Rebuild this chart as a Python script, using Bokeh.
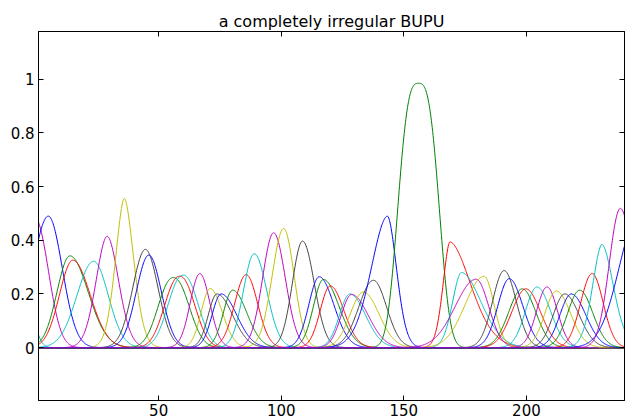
import numpy as np
from bokeh.plotting import figure
from bokeh.models import Range1d, LinearAxis, FixedTicker
from bokeh.embed import file_html
from bokeh.resources import INLINE

# ---- data (one bump per curve) ----
colors = ["c", "m", "b", "g", "r", "c", "m", "y", "k", "b",
          "g", "r", "c", "m", "y", "k", "b", "g", "r", "c",
          "m", "y", "k", "b", "g", "r", "c", "m", "y", "k",
          "b", "g", "r", "c", "m", "y", "k", "b", "g", "r",
          "c", "m", "y", "k", "b", "g", "r", "c", "b", "m"]
centers = [-4, -1, 5, 13.8, 15, 23.5, 29, 36, 44.6, 46,
           56, 58.6, 60, 66.8, 71, 73.8, 75.5, 80.2, 85.7, 89,
           96.9, 101, 108.7, 115.5, 117.2, 120, 128, 128.7, 133.5, 137.6,
           143.3, 156, 168.8, 173.5, 179.5, 182.7, 190.9, 193, 198.3, 199.8,
           204.3, 208.4, 212.2, 215.6, 218.3, 221.7, 226.8, 230.8, 246, 238.3]
heights = [0.2, 0.49, 0.49, 0.342, 0.326, 0.322, 0.415, 0.556, 0.366, 0.345,
           0.261, 0.266, 0.27, 0.276, 0.22, 0.2, 0.2, 0.214, 0.272, 0.35,
           0.428, 0.444, 0.397, 0.264, 0.254, 0.23, 0.2, 0.198, 0.207, 0.251,
           0.49, 0.985, 0.394, 0.28, 0.255, 0.266, 0.287, 0.257, 0.219, 0.219,
           0.226, 0.226, 0.211, 0.2, 0.2, 0.214, 0.276, 0.385, 0.5, 0.519]
half_left = [3.5, 6.8, 7.5, 6.2, 6.4, 8.0, 5.3, 4.2, 6.1, 6.0,
             7.0, 7.0, 7.0, 4.6, 4.3, 4.2, 4.4, 4.5, 5.5, 5.2,
             5.3, 5.5, 4.9, 5.0, 4.8, 4.8, 5.0, 5.0, 6.3, 7.0,
             7.8, 8.7, 3.3, 4.3, 10, 9, 5.5, 5.5, 6.5, 6.8,
             5.5, 5.0, 5.5, 5.5, 5.5, 5.7, 5.5, 4.5, 9.5, 5.3]
half_right = [3.5, 6.8, 6.7, 8.8, 8.3, 7.0, 5.5, 4.5, 6.1, 6.0,
              7.3, 7.0, 7.0, 4.8, 5.8, 7.5, 7.5, 6.8, 5.5, 6.0,
              5.6, 5.0, 5.6, 7.0, 7.5, 6.5, 7.5, 8.0, 7.5, 6.3,
              4.4, 8.7, 10, 9.5, 6, 4.8, 5.8, 6.5, 6.5, 7.0,
              6.5, 5.0, 6.8, 7.0, 7.0, 6.3, 5.3, 5.5, 9.5, 6.0]
shapes = [2, 2.2, 2, 2, 2, 2, 1.9, 1.8, 2, 2,
          2.2, 2.2, 2.2, 2, 2, 2, 2, 2, 2, 2,
          2, 2, 2, 2, 2, 2, 2, 2, 2, 2,
          1.85, 3, 1.8, 1.9, 2, 2, 2, 2, 2, 2,
          2, 2, 2, 2, 2, 2, 2, 1.8, 2, 2]

x_ticks = [50, 100, 150, 200]
y_ticks = [0, 0.2, 0.4, 0.6, 0.8, 1.0]
y_tick_labels = ["0", "0.2", "0.4", "0.6", "0.8", "1"]

palette = {"b": "#0000ff", "g": "#008000", "r": "#ff0000", "c": "#00bfbf",
           "m": "#bf00bf", "y": "#bfbf00", "k": "#404040"}

FONT = "DejaVu Sans"

p = figure(width=628, height=420, output_backend="svg", toolbar_location=None,
           x_range=Range1d(1, 240), y_range=Range1d(-0.197, 1.178),
           min_border_left=38, min_border_right=4, min_border_top=31,
           min_border_bottom=20, title="a completely irregular BUPU")
p.title.align = "center"
p.title.text_font = FONT
p.title.text_font_size = "16px"
p.title.text_font_style = "normal"
p.title.text_color = "black"
p.title.standoff = 2
p.xgrid.visible = False
p.ygrid.visible = False
p.outline_line_color = "black"
p.outline_line_alpha = 1
p.outline_line_width = 1
p.background_fill_color = "white"
p.border_fill_color = "white"

xs = np.linspace(1, 240, 1400)
for col, c, h, hl, hr, sh in zip(colors, centers, heights, half_left, half_right, shapes):
    d = xs - c
    w = np.where(d < 0, hl, hr)
    ys = h * np.power(2.0, -np.power(np.abs(d) / w, sh))
    p.line(xs, ys, line_color=palette[col], line_width=1)

def style_axis(ax, ticks, labels=True):
    ax.ticker = FixedTicker(ticks=ticks)
    ax.major_tick_in = 5
    ax.major_tick_out = 0
    ax.minor_tick_line_color = None
    ax.axis_line_color = "black"
    ax.axis_line_width = 1
    ax.major_tick_line_color = "black"
    ax.major_label_text_font = FONT
    if labels:
        ax.major_label_text_font_size = "15px"
        ax.major_label_text_color = "black"
        ax.major_label_standoff = 4
    else:
        ax.major_label_text_font_size = "1px"
        ax.major_label_text_color = None
        ax.major_label_standoff = 0

style_axis(p.xaxis[0], x_ticks)
p.xaxis[0].major_label_standoff = 3
style_axis(p.yaxis[0], y_ticks)
p.yaxis[0].major_label_overrides = dict(zip(y_ticks, y_tick_labels))

top = LinearAxis()
style_axis(top, x_ticks, labels=False)
p.add_layout(top, "above")
right = LinearAxis()
style_axis(right, y_ticks, labels=False)
p.add_layout(right, "right")

open("out.html", "w").write(file_html(p, INLINE))
